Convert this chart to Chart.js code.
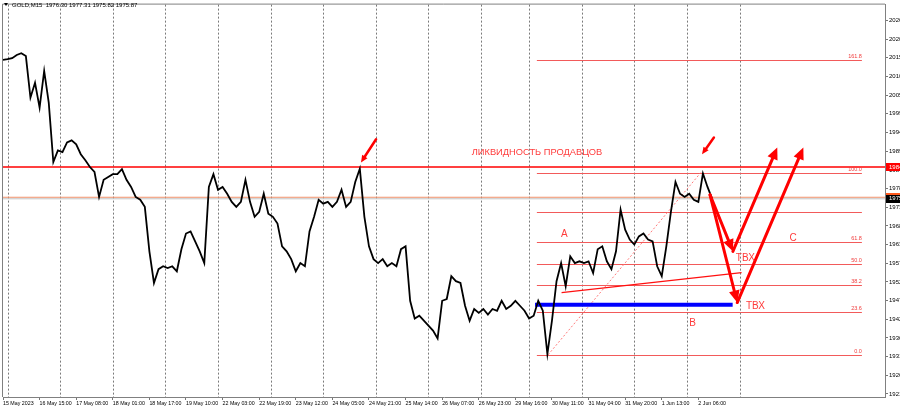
<!DOCTYPE html>
<html>
<head>
<meta charset="utf-8">
<script src="https://cdn.jsdelivr.net/npm/chart.js@4.4.0/dist/chart.umd.min.js"></script>
<style>
  html, body { margin: 0; padding: 0; background: #fff; overflow: hidden; }
  #wrap { width: 960px; height: 409px; }
</style>
</head>
<body>
<div id="wrap"><canvas id="canvas-1" width="960" height="409"></canvas></div>
<script>
'use strict';

// GOLD M15, one close every 2 trading hours from 15 May 22:00
var closes = [
  2014.9, 2015.1, 2015.4, 2016.3, 2016.8, 2016.0, 2004.3, 2008.5, 2001.5, 2011.8,
  2002.9, 1986.2, 1989.5, 1989.0, 1991.7, 1992.3, 1991.2, 1988.4, 1986.7, 1984.8,
  1983.4, 1976.4, 1981.2, 1982.0, 1982.8, 1982.8, 1984.2, 1981.2, 1979.2, 1976.4,
  1975.6, 1973.6, 1961.1, 1952.2, 1956.1, 1956.9, 1956.4, 1956.9, 1955.5, 1961.7,
  1966.1, 1966.7, 1963.9, 1961.1, 1957.8, 1979.2, 1982.8, 1978.4, 1979.2, 1977.3,
  1975.0, 1973.6, 1975.0, 1981.2, 1975.0, 1970.8, 1972.2, 1977.3, 1971.7, 1970.8,
  1968.9, 1962.5, 1961.1, 1958.9, 1955.5, 1957.8, 1956.9, 1966.7, 1970.8, 1975.6,
  1974.5, 1975.0, 1973.6, 1975.0, 1978.4, 1973.6, 1975.0, 1980.6, 1984.3, 1970.8,
  1962.5, 1958.9, 1957.8, 1958.9, 1956.9, 1957.8, 1956.9, 1961.7, 1962.5, 1947.2,
  1942.2, 1943.0, 1941.6, 1940.2, 1938.8, 1936.6, 1947.2, 1947.7, 1954.1, 1952.7,
  1952.2, 1945.8, 1941.6, 1944.9, 1943.8, 1944.9, 1943.3, 1944.9, 1944.4, 1947.2,
  1944.9, 1945.8, 1947.2, 1945.8, 1944.4, 1942.2, 1943.0, 1947.2, 1944.4, 1932.2,
  1941.6, 1952.7, 1957.8, 1951.3, 1959.7, 1957.8, 1958.3, 1957.8, 1958.3, 1955.0,
  1961.7, 1962.5, 1958.3, 1956.1, 1961.1, 1972.8, 1967.2, 1964.4, 1963.0, 1965.3,
  1966.1, 1964.4, 1963.9, 1956.9, 1954.1, 1962.5, 1972.2, 1980.6, 1977.3, 1976.4,
  1977.3, 1975.6, 1975.0, 1983.0, 1979.2, 1975.9
];
var hoursPerPoint = 2;

var timeLabels = ['15 May 2023', '16 May 15:00', '17 May 08:00', '18 May 01:00', '18 May 17:00',
  '19 May 10:00', '22 May 03:00', '22 May 19:00', '23 May 12:00', '24 May 05:00', '24 May 21:00',
  '25 May 14:00', '26 May 07:00', '26 May 23:00', '29 May 16:00', '30 May 11:00', '31 May 04:00',
  '31 May 20:00', '1 Jun 13:00', '2 Jun 06:00'];
var labelStep = 16;                      // trading hours between time labels
var dayStarts = [2, 25, 48, 71, 94, 117, 140, 163, 186, 209, 230, 253, 276, 299, 322];

var priceTicks = [2026.00, 2020.75, 2015.50, 2010.25, 2005.00, 1999.75, 1994.50, 1989.25, 1984.00,
  1978.75, 1973.50, 1968.25, 1963.00, 1957.75, 1952.50, 1947.25, 1942.00, 1936.75, 1931.50,
  1926.25, 1921.00];
var yMin = 1920.15, yMax = 2030.46, xMax = 385.6;

var header = 'GOLD,M15  1976.30 1977.31 1975.82 1975.87';
var liquidityPrice = 1984.8;
var openLinePrice = 1976.3;
var bidPrice = 1975.87;

var fibLow = [238.3, 1932.0];
var fibHigh = [305.1, 1983.25];
var fibLevels = [0, 23.6, 38.2, 50, 61.8, 78.6, 100, 161.8];
var fibLabels = ['0.0', '23.6', '38.2', '50.0', '61.8', '', '100.0', '161.8'];
var fibSpan = [233.4, 375.5];

var blueZone = [232.6, 319.0, 1946.1];
var trendLine = [[244.2, 1949.5], [322.9, 1955.1]];
var bigArrows = [
  [[309.1, 1977.0], [319.1, 1961.1]],
  [[309.1, 1977.0], [321.0, 1946.7]],
  [[319.1, 1961.1], [338.5, 1990.3]],
  [[321.0, 1946.7], [349.9, 1990.3]]
];
var smallArrows = [
  [[163.1, 1992.6], [156.5, 1986.1]],
  [[310.8, 1993.1], [305.6, 1988.4]]
];
var notes = [
  ['ЛИКВИДНОСТЬ ПРОДАВЦОВ', 204.9, 1988.9],
  ['A', 244.0, 1965.8],
  ['B', 300.0, 1940.8],
  ['C', 343.8, 1964.7],
  ['ТВХ', 320.4, 1959.1],
  ['ТВХ', 324.8, 1945.6]
];

Chart.defaults.font.family = '"Liberation Sans", Arial, sans-serif';

var points = closes.map(function(v, i) { return {x: i * hoursPerPoint, y: v}; });

function drawArrow(c, x1, y1, x2, y2, w, head) {
  var ang = Math.atan2(y2 - y1, x2 - x1);
  var cs = Math.cos(ang), sn = Math.sin(ang);
  c.lineWidth = w;
  c.beginPath();
  c.moveTo(x1, y1);
  c.lineTo(x2 - cs * head * 0.8, y2 - sn * head * 0.8);
  c.stroke();
  c.beginPath();
  c.moveTo(x2, y2);
  c.lineTo(x2 - head * cs + head * 0.45 * sn, y2 - head * sn - head * 0.45 * cs);
  c.lineTo(x2 - head * cs - head * 0.45 * sn, y2 - head * sn + head * 0.45 * cs);
  c.closePath();
  c.fill();
}

function priceBox(c, chart, price, bg, text) {
  var y = chart.scales.y.getPixelForValue(price);
  var x0 = chart.chartArea.right + 1;
  c.fillStyle = bg;
  c.fillRect(x0, Math.round(y) - 4, 80, 8);
  c.fillStyle = '#fff';
  c.font = '6px "Liberation Sans"';
  c.textBaseline = 'middle';
  c.textAlign = 'left';
  c.fillText(text, x0 + 3, y);
}

var overlay = {
  id: 'overlay',
  beforeDatasetsDraw: function(chart) {
    var c = chart.ctx, a = chart.chartArea, x = chart.scales.x, y = chart.scales.y;
    c.save();
    // day separators
    c.strokeStyle = '#7a7a7a';
    c.lineWidth = 1;
    c.setLineDash([2, 2]);
    dayStarts.forEach(function(h) {
      var px = Math.round(x.getPixelForValue(h)) + 0.5;
      c.beginPath(); c.moveTo(px, a.top); c.lineTo(px, a.bottom); c.stroke();
    });
    c.setLineDash([]);

    function hline(price, color, w) {
      var py = y.getPixelForValue(price);
      c.strokeStyle = color; c.lineWidth = w;
      c.beginPath(); c.moveTo(a.left, py); c.lineTo(a.right, py); c.stroke();
    }
    hline(bidPrice, '#c4c4c4', 1);
    hline(openLinePrice, '#f0906a', 1);
    hline(liquidityPrice, '#ff0000', 1.5);

    // fibonacci grid
    var range = fibHigh[1] - fibLow[1];
    var fx0 = x.getPixelForValue(fibSpan[0]), fx1 = x.getPixelForValue(fibSpan[1]);
    c.font = '5.5px "Liberation Sans"';
    c.textAlign = 'right';
    c.textBaseline = 'bottom';
    fibLevels.forEach(function(lv, i) {
      var py = Math.round(y.getPixelForValue(fibLow[1] + range * lv / 100)) + 0.5;
      c.strokeStyle = '#f25a5a'; c.lineWidth = 1;
      c.beginPath(); c.moveTo(fx0, py); c.lineTo(fx1, py); c.stroke();
      c.fillStyle = '#f03c3c';
      c.fillText(fibLabels[i], fx1, py - 1);
    });
    c.strokeStyle = '#ff7a7a';
    c.setLineDash([2, 2]);
    c.beginPath();
    c.moveTo(x.getPixelForValue(fibLow[0]), y.getPixelForValue(fibLow[1]));
    c.lineTo(x.getPixelForValue(fibHigh[0]), y.getPixelForValue(fibHigh[1]));
    c.stroke();
    c.setLineDash([]);

    // blue zone and trend line
    c.strokeStyle = '#0000ff';
    c.lineWidth = 4;
    c.beginPath();
    c.moveTo(x.getPixelForValue(blueZone[0]), y.getPixelForValue(blueZone[2]));
    c.lineTo(x.getPixelForValue(blueZone[1]), y.getPixelForValue(blueZone[2]));
    c.stroke();
    c.strokeStyle = '#ff1010';
    c.lineWidth = 1.3;
    c.beginPath();
    c.moveTo(x.getPixelForValue(trendLine[0][0]), y.getPixelForValue(trendLine[0][1]));
    c.lineTo(x.getPixelForValue(trendLine[1][0]), y.getPixelForValue(trendLine[1][1]));
    c.stroke();
    c.restore();
  },
  afterDatasetsDraw: function(chart) {
    var c = chart.ctx, x = chart.scales.x, y = chart.scales.y;
    c.save();
    c.strokeStyle = '#ff0000';
    c.fillStyle = '#ff0000';
    c.lineCap = 'round';
    bigArrows.forEach(function(ar) {
      drawArrow(c, x.getPixelForValue(ar[0][0]), y.getPixelForValue(ar[0][1]),
        x.getPixelForValue(ar[1][0]), y.getPixelForValue(ar[1][1]), 3, 12);
    });
    smallArrows.forEach(function(ar) {
      drawArrow(c, x.getPixelForValue(ar[0][0]), y.getPixelForValue(ar[0][1]),
        x.getPixelForValue(ar[1][0]), y.getPixelForValue(ar[1][1]), 2.5, 7);
    });
    c.fillStyle = '#ff3b3b';
    c.textAlign = 'left';
    c.textBaseline = 'middle';
    notes.forEach(function(n, i) {
      c.font = (i === 0 ? '9.3px' : '10px') + ' "Liberation Sans"';
      c.fillText(n[0], x.getPixelForValue(n[1]), y.getPixelForValue(n[2]));
    });
    c.restore();
  },
  afterDraw: function(chart) {
    var c = chart.ctx, a = chart.chartArea;
    c.save();
    c.strokeStyle = '#808080';
    c.lineWidth = 1;
    c.beginPath();
    c.moveTo(a.left - 0.5, a.bottom); c.lineTo(a.left - 0.5, a.top - 0.5); c.lineTo(a.right, a.top - 0.5);
    c.stroke();
    // header
    c.fillStyle = '#000';
    c.beginPath(); c.moveTo(4, 3); c.lineTo(8, 3); c.lineTo(6, 6); c.closePath(); c.fill();
    c.font = '6px "Liberation Sans"';
    c.textAlign = 'left';
    c.textBaseline = 'middle';
    c.fillText(header, 12, 5);
    priceBox(c, chart, liquidityPrice, '#ff0000', liquidityPrice.toFixed(2));
    priceBox(c, chart, openLinePrice, '#ff5a1e', openLinePrice.toFixed(2));
    priceBox(c, chart, bidPrice, '#000000', bidPrice.toFixed(2));
    c.restore();
  }
};

var ctx = document.getElementById('canvas-1');
var chart = new Chart(ctx, {
  type: 'line',
  data: {
    datasets: [{
      data: points,
      borderColor: '#000',
      borderWidth: 1.8,
      pointRadius: 0,
      tension: 0
    }]
  },
  options: {
    responsive: false,
    animation: false,
    events: [],
    layout: { padding: { left: 3, top: 1 } },
    plugins: { legend: { display: false }, tooltip: { enabled: false } },
    scales: {
      x: {
        type: 'linear',
        min: 0,
        max: xMax,
        afterBuildTicks: function(s) {
          s.ticks = timeLabels.map(function(t, i) { return {value: i * labelStep}; });
        },
        afterFit: function(s) { s.height = 12; },
        ticks: {
          autoSkip: false, maxRotation: 0, align: 'start', padding: 0,
          color: '#000', font: { size: 5.3 },
          callback: function(v, i) { return timeLabels[i]; }
        },
        grid: { drawOnChartArea: false, tickLength: 3, color: '#777' },
        border: { color: '#808080' }
      },
      y: {
        position: 'right',
        min: yMin,
        max: yMax,
        afterBuildTicks: function(s) {
          s.ticks = priceTicks.map(function(v) { return {value: v}; });
        },
        afterFit: function(s) { s.width = 75; },
        ticks: {
          padding: 1, color: '#000', font: { size: 6 },
          callback: function(v) { return v.toFixed(2); }
        },
        grid: { drawOnChartArea: false, tickLength: 3, color: '#777' },
        border: { color: '#808080' }
      }
    }
  },
  plugins: [overlay]
});
</script>
</body>
</html>
